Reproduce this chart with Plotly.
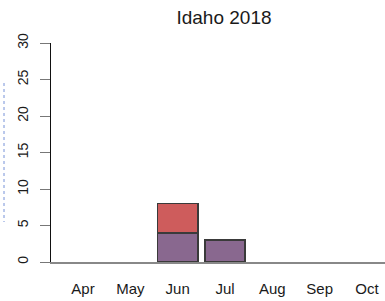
import plotly.graph_objects as go

months = ["Apr", "May", "Jun", "Jul", "Aug", "Sep", "Oct"]
series_a = [0, 0, 4, 3, 0, 0, 0]   # purple (bottom)
series_b = [0, 0, 4, 0, 0, 0, 0]   # red (top)
y_ticks = [0, 5, 10, 15, 20, 25, 30]
title_text = "Idaho 2018"


def nz(vals):
    # zero-height bars are not drawn in the reference
    return [v if v else None for v in vals]


edge = dict(color="#3a3a3a", width=1.5)
fig = go.Figure()
fig.add_bar(x=months, y=nz(series_a), marker=dict(color="rgb(137,104,143)", line=edge))
fig.add_bar(x=months, y=nz(series_b), marker=dict(color="rgb(206,92,92)", line=edge))

W, H = 385, 301
L, R, T, B = 51, 0, 43, 39
fig.update_layout(
    width=W, height=H,
    margin=dict(l=L, r=R, t=T, b=B, pad=0, autoexpand=False),
    barmode="stack", bargap=0.15,
    showlegend=False,
    plot_bgcolor="white", paper_bgcolor="white",
    font=dict(family="Liberation Sans, Arial, sans-serif", size=14, color="#1a1a1a"),
    title=dict(text=title_text, x=224 / W, xref="container", xanchor="center",
               y=1 - 17 / H, yref="container", yanchor="middle",
               font=dict(size=19, color="#1a1a1a")),
)
fig.update_xaxes(
    range=[-0.676, 6.38], showgrid=False, zeroline=False, automargin=False,
    showline=True, linecolor="#888", linewidth=1.5,
    ticks="", ticklabelstandoff=12, tickfont=dict(size=15),
    fixedrange=True,
)
fig.update_yaxes(
    range=[0, 30], tickvals=y_ticks, showgrid=False, zeroline=False, automargin=False,
    showline=True, linecolor="#111", linewidth=1.2,
    ticks="outside", ticklen=10, tickcolor="#777", tickwidth=1.2,
    tickangle=-90, ticklabelstandoff=6, tickfont=dict(size=14),
    fixedrange=True,
)
# faint dotted blue artifact at far left
fig.add_shape(type="line", xref="paper", yref="paper",
              x0=(4 - L) / (W - L - R), x1=(4 - L) / (W - L - R),
              y0=(262 - 83) / 219, y1=(262 - 222) / 219,
              line=dict(color="rgba(60,100,200,0.7)", width=1, dash="dot"))

fig.write_html(
    "out.html",
    config={"displayModeBar": False},
    post_script="document.body.style.margin='0';document.body.style.overflow='hidden';",
)
